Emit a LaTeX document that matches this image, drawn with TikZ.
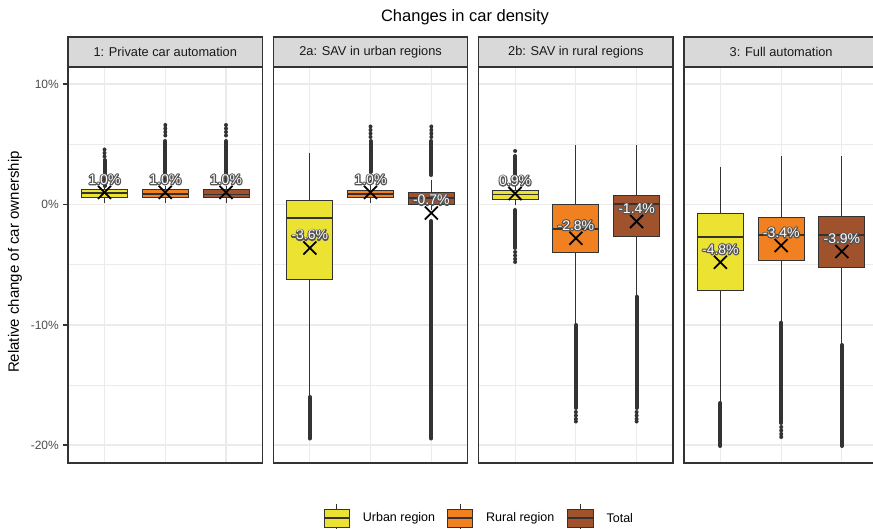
\documentclass[tikz,border=0pt]{standalone}
\usepackage{fontspec}
\setmainfont{Liberation Sans}

\definecolor{urbanc}{RGB}{235,226,50}
\definecolor{ruralc}{RGB}{240,128,32}
\definecolor{totalc}{RGB}{160,82,45}
\definecolor{gridc}{RGB}{235,235,235}
\definecolor{darkc}{RGB}{51,51,51}
\definecolor{stripc}{RGB}{217,217,217}
\definecolor{tickc}{RGB}{77,77,77}

% white text with a grey outline (stroked copy under a filled copy)
\newcommand{\outtxt}[1]{%
  \special{pdf:literal direct 1 Tr 2.4 w 1 j 0.33 G}\rlap{#1}%
  \special{pdf:literal direct 0 Tr}#1}
% box: x, fill, whisker top, box top, median, box bottom, whisker bottom
\newcommand{\bxplot}[7]{%
  \draw[whisk] (#1,#3) -- (#1,#7);
  \filldraw[bx, fill=#2] ({#1-23},#4) rectangle ({#1+23},#6);
  \draw[med] ({#1-23},#5) -- ({#1+23},#5);
}
% mean cross with value label: name, x, mean y, text
\newcommand{\meanlbl}[4]{%
  \draw[cross] ({#2-6.5},{#3-6.5}) -- ({#2+6.5},{#3+6.5})
               ({#2-6.5},{#3+6.5}) -- ({#2+6.5},{#3-6.5});
  \node[lbl] (#1) at (#2,{#3-13}) {\outtxt{#4}};
}

\begin{document}
\begin{tikzpicture}[
  x=1pt, y=-1pt,
  whisk/.style={draw=darkc, line width=0.9pt},
  bx/.style={draw=darkc, line width=0.9pt},
  med/.style={draw=darkc, line width=1.8pt},
  outl/.style={draw=darkc, line width=4pt, line cap=round},
  cross/.style={draw=black, line width=1.8pt},
  lbl/.style={inner sep=0pt, text=white, font=\fontsize{14}{14}\selectfont},
  major/.style={draw=gridc, line width=1.1pt},
  minor/.style={draw=gridc, line width=0.6pt},
  frame/.style={draw=darkc, line width=1.3pt},
  strip/.style={draw=darkc, line width=1.3pt, fill=stripc},
  striptext/.style={text=black!90, font=\fontsize{12.8}{13}\selectfont},
  ticklbl/.style={anchor=east, text=tickc, inner sep=0pt, font=\fontsize{12}{12}\selectfont},
  legtext/.style={anchor=west, inner sep=0pt, font=\fontsize{12.5}{13}\selectfont}
]
\useasboundingbox (0,0) rectangle (873,529);
\clip (0,0) rectangle (873,529);

\node[font=\fontsize{16.5}{17}\selectfont] (title) at (465,17) {Changes in car density};
\node[rotate=90, font=\fontsize{15}{15}\selectfont] (ylab) at (15,262) {Relative change of car ownership};

% grid of the four panels
\foreach \px in {68,273.3,478.6,683.9} {
  \foreach \gy in {144,264.5,385}
    \draw[minor] (\px,\gy) -- ({\px+194.5},\gy);
  \foreach \gy in {84,204.5,325,445}
    \draw[major] (\px,\gy) -- ({\px+194.5},\gy);
  \foreach \gx in {36.5,97.25,158}
    \draw[major] ({\px+\gx},67) -- ({\px+\gx},463);
}

% y axis
\foreach \gy/\txt in {84/10\%,204.5/0\%,325/-10\%,445/-20\%} {
  \draw[darkc, line width=1.1pt] (63,\gy) -- (68,\gy);
  \node[ticklbl] at (59,\gy) {\txt};
}

% 1: private car automation
\draw[outl] (104.5,186) -- (104.5,160);
\fill[darkc] (104.5,149.5) circle (2) (104.5,153) circle (2) (104.5,156.5) circle (2);
\bxplot{104.5}{urbanc}{186}{189.3}{193.3}{197.3}{203}
\draw[outl] (165.3,183) -- (165.3,141);
\fill[darkc] (165.3,125) circle (2) (165.3,128.5) circle (2) (165.3,132) circle (2) (165.3,135.5) circle (2);
\bxplot{165.3}{ruralc}{186}{189.7}{194}{197.7}{203}
\draw[outl] (226,183) -- (226,141);
\fill[darkc] (226,125) circle (2) (226,128.5) circle (2) (226,132) circle (2) (226,135.5) circle (2);
\bxplot{226}{totalc}{186}{189.5}{194.5}{197.5}{203}
\meanlbl{m1u}{104.5}{192.4}{1.0\%}
\meanlbl{m1r}{165.3}{192.4}{1.0\%}
\meanlbl{m1t}{226}{192.4}{1.0\%}

% 2a: SAV in urban regions
\draw[outl] (309.8,397) -- (309.8,438.5);
\bxplot{309.8}{urbanc}{153}{200.7}{218.3}{279.3}{397}
\draw[outl] (370.5,172) -- (370.5,141);
\fill[darkc] (370.5,126.5) circle (2) (370.5,130) circle (2) (370.5,133.5) circle (2) (370.5,137) circle (2);
\bxplot{370.5}{ruralc}{180}{190}{194}{197.7}{203}
\draw[outl] (431.3,175) -- (431.3,141);
\fill[darkc] (431.3,126.5) circle (2) (431.3,130) circle (2) (431.3,133.5) circle (2) (431.3,137) circle (2);
\draw[outl] (431.3,221) -- (431.3,438.5);
\bxplot{431.3}{totalc}{180}{192.3}{198.3}{204}{210}
\meanlbl{m2u}{309.8}{248}{-3.6\%}
\meanlbl{m2r}{370.5}{192.4}{1.0\%}
\meanlbl{m2t}{431.3}{213}{-0.7\%}

% 2b: SAV in rural regions
\draw[outl] (515.1,184) -- (515.1,156);
\fill[darkc] (515.1,151) circle (2);
\draw[outl] (515.1,210) -- (515.1,248);
\fill[darkc] (515.1,252) circle (2) (515.1,255.5) circle (2) (515.1,259) circle (2) (515.1,262) circle (2);
\bxplot{515.1}{urbanc}{186}{190}{194.5}{199}{205}
\draw[outl] (575.9,325) -- (575.9,408);
\fill[darkc] (575.9,412) circle (2) (575.9,415.5) circle (2) (575.9,419) circle (2) (575.9,421.5) circle (2);
\bxplot{575.9}{ruralc}{145}{204.3}{229}{252.7}{325}
\draw[outl] (636.6,296.7) -- (636.6,408);
\fill[darkc] (636.6,412) circle (2) (636.6,415.5) circle (2) (636.6,419) circle (2) (636.6,421.5) circle (2);
\bxplot{636.6}{totalc}{145}{195.7}{204}{236}{296.7}
\meanlbl{m3u}{515.1}{193.6}{0.9\%}
\meanlbl{m3r}{575.9}{238.2}{-2.8\%}
\meanlbl{m3t}{636.6}{221.4}{-1.4\%}

% 3: full automation
\draw[outl] (720.4,403) -- (720.4,446);
\bxplot{720.4}{urbanc}{166.7}{213.3}{236.7}{290}{403}
\draw[outl] (781.2,322.7) -- (781.2,423);
\fill[darkc] (781.2,427) circle (2) (781.2,430.5) circle (2) (781.2,434) circle (2) (781.2,437) circle (2);
\bxplot{781.2}{ruralc}{156}{217.7}{235}{260.7}{322.7}
\draw[outl] (841.9,345) -- (841.9,446);
\bxplot{841.9}{totalc}{156}{216}{235}{267.7}{345}
\meanlbl{m4u}{720.4}{262.3}{-4.8\%}
\meanlbl{m4r}{781.2}{245.5}{-3.4\%}
\meanlbl{m4t}{841.9}{251.5}{-3.9\%}

% frames and strips
\foreach \px/\name in {68/1: Private car automation,273.3/2a: SAV in urban regions,478.6/2b: SAV in rural regions,683.9/3: Full automation} {
  \draw[frame] (\px,67) rectangle ({\px+194.5},463);
  \filldraw[strip] (\px,37) rectangle ({\px+194.5},67);
  \node[striptext] at ({\px+97.25},52) {\name};
}

% legend
\foreach \kx/\kc/\ktxt in {324/urbanc/Urban region,447.3/ruralc/Rural region,567.7/totalc/Total} {
  \draw[whisk] ({\kx+12.8},504) -- ({\kx+12.8},532);
  \filldraw[bx, fill=\kc] (\kx,509) rectangle ({\kx+25.6},527);
  \draw[darkc, line width=1.2pt] (\kx,518) -- ({\kx+25.6},518);
  \node[legtext] at ({\kx+38.7},518) {\ktxt};
}
\end{tikzpicture}
\end{document}
